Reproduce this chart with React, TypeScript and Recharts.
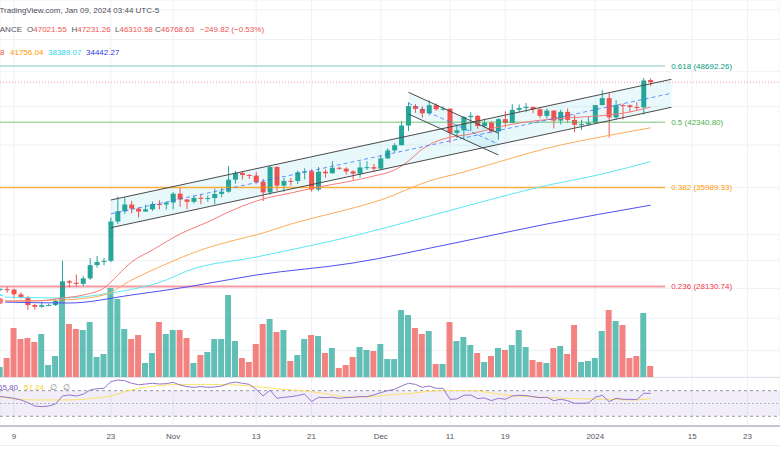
import React from 'react';
import {
  ComposedChart,
  Bar,
  Line,
  Area,
  XAxis,
  YAxis,
  CartesianGrid,
  ReferenceLine,
  ReferenceArea,
  Cell,
} from 'recharts';

// daily candles, Oct 7 2023 (day -2) .. Jan 9 2024 (day 92), day 0 = Oct 9
const FIRST_DAY = -2;
const opens = [
  27930, 27950, 27920, 27590, 27390, 26870, 26750, 26850, 26865, 27150, 28500, 28400, 28320, 28710, 29670, 29910,
  29990, 33070, 33920, 34500, 34150, 33900, 34090, 34540, 34500, 34670, 35440, 34940, 34730, 35080, 35050, 35060,
  35420, 35620, 36700, 37320, 37130, 37070, 36490, 35550, 37880, 36160, 36590, 36580, 37380, 37470, 35810, 37430,
  37290, 37800, 37720, 37460, 37250, 37830, 37860, 37720, 38690, 39470, 39980, 41990, 44080, 43770, 43290, 44170,
  43720, 43790, 41240, 41490, 42870, 43020, 41940, 42280, 41370, 42660, 42260, 43660, 43860, 43990, 43720, 43010,
  43580, 42510, 43440, 42580, 42070, 42140, 42280, 44180, 44950, 42850, 44180, 44160, 43970, 43930, 47021.55,
];
const highs = [
  28000, 28100, 27990, 27740, 27480, 26940, 27090, 26960, 27290, 30000, 28610, 28990, 28890, 30200, 30360, 30200,
  33400, 35200, 35130, 34820, 34250, 34470, 34750, 34860, 34720, 35580, 35980, 34950, 35280, 35380, 35290, 35900,
  35980, 37970, 37530, 37410, 37230, 37410, 36760, 37980, 37930, 36850, 36850, 37540, 37750, 37650, 37870, 37650,
  38430, 37900, 37840, 37590, 38400, 38430, 38170, 38990, 39690, 40190, 42420, 44490, 44300, 44050, 44700, 44370,
  44040, 43850, 42100, 43000, 43420, 43090, 42700, 42430, 42760, 43500, 44280, 44240, 44400, 43990, 43950, 43800,
  43600, 43680, 43800, 43120, 42600, 42900, 44180, 45880, 45500, 44730, 44340, 44230, 44500, 47250, 47231.26,
];
const lows = [
  27860, 27690, 27300, 27300, 26540, 26560, 26690, 26800, 26810, 27110, 28080, 28130, 28170, 28600, 29480, 29660,
  29880, 32880, 33700, 33750, 33400, 33880, 33940, 34080, 34060, 34100, 34300, 34100, 34580, 34530, 34740, 34520,
  35120, 35530, 36330, 36710, 36760, 36340, 34800, 35360, 35700, 35610, 36170, 36300, 36720, 35630, 35660, 36880,
  37250, 37620, 37170, 36700, 36880, 37600, 37500, 37610, 38650, 39280, 39980, 41420, 43330, 42820, 43080, 43580,
  43560, 40220, 40680, 40600, 41420, 41660, 41680, 41250, 40530, 41800, 42230, 43400, 43400, 43300, 42750, 42720,
  41680, 42100, 42300, 41300, 41520, 41960, 42180, 44150, 40750, 42620, 42630, 43400, 43600, 43170, 46310.58,
];
const closes = [
  27950, 27920, 27590, 27390, 26870, 26750, 26860, 26865, 27150, 28500, 28400, 28320, 28710, 29670, 29910, 29990,
  33070, 33920, 34500, 34150, 33900, 34090, 34540, 34500, 34670, 35440, 34940, 34730, 35080, 35050, 35060, 35420,
  35620, 36700, 37320, 37130, 37070, 36490, 35550, 37880, 36160, 36590, 36580, 37380, 37470, 35810, 37430, 37290,
  37800, 37720, 37460, 37250, 37830, 37860, 37720, 38690, 39470, 39980, 41990, 44080, 43770, 43290, 44170, 43720,
  43790, 41240, 41490, 42870, 43020, 41940, 42280, 41370, 42660, 42260, 43660, 43860, 43990, 43720, 43010, 43580,
  42510, 43440, 42580, 42070, 42140, 42280, 44180, 44950, 42850, 44180, 44160, 43970, 43930, 46970, 46768.63,
];
// volume, thousand BTC
const volumes = [
  10, 19, 49, 38, 39, 35, 43, 12, 21, 80, 53, 48, 47, 55, 20, 23, 89, 78, 48, 38, 42, 14, 24, 55, 43, 47, 47, 39,
  14, 22, 25, 38, 38, 82, 36, 19, 15, 33, 53, 58, 45, 47, 16, 22, 38, 42, 41, 24, 29, 9, 12, 20, 30, 27, 26, 33,
  18, 18, 67, 62, 49, 43, 46, 13, 13, 55, 36, 40, 32, 24, 15, 21, 29, 27, 32, 47, 30, 17, 15, 14, 29, 31, 23, 52,
  15, 16, 19, 46, 67, 56, 52, 19, 21, 64, 11,
];
const rsiValues = [
  60.7, 59.7, 58, 55.5, 51.3, 46.1, 45, 46, 49.2, 61.7, 63.3, 61.7, 64.3, 71, 73, 73.7, 84, 86.7, 85.6, 81.5, 79.3,
  80.4, 81.5, 80.4, 81, 83, 78.8, 76.3, 75.2, 76.3, 75.2, 75.7, 77.3, 81.5, 83.5, 81.5, 79.9, 72.1, 61.7, 71, 58.1,
  59.7, 60.7, 62.3, 64.8, 52.9, 59.7, 59.1, 59.7, 58.1, 59.1, 59.7, 60.7, 60.7, 63.3, 66.9, 70, 72.1, 77.3, 81.5,
  79.9, 75.2, 77.3, 73.7, 73.7, 56.5, 57.1, 62.8, 63.3, 57.6, 58.6, 54.4, 58.1, 56.5, 61.7, 62.8, 62.3, 60.7, 59.1,
  59.7, 54.4, 56.5, 54.4, 50.3, 50.3, 50.8, 59.7, 62.8, 52.9, 58.1, 56.5, 56.5, 56, 65.9, 65.8,
];
const rsiMaDays = [-2, 0, 3, 8, 11, 14, 16, 20, 23, 27, 32, 35, 39, 43, 46, 49, 52, 54, 57, 59, 62, 66, 71, 76, 81, 86, 89, 92];
const rsiMaVals = [60.7, 57, 55.5, 55.5, 57.6, 61.7, 68.4, 76.8, 79.4, 79.9, 78.9, 76.3, 72.1, 68.4, 63.3, 59.7, 60.7, 63.3, 65.4, 67.9, 70, 70, 63.3, 59.7, 57.6, 56.5, 55.5, 57.2];

// moving averages read at sample days
const maRedDays = [-2, 3, 7, 10, 13, 14, 15, 17, 20, 24, 28, 32, 36, 40, 44, 48, 52, 55, 57, 59, 62, 66, 70, 74, 78, 82, 86, 89, 92];
const maRedVals = [27137, 27137, 27342, 27545, 28033, 28450, 28950, 29902, 30807, 32060, 33033, 34120, 34980, 35501, 36037, 36485, 37035, 37594, 38441, 39605, 40603, 41111, 41837, 42360, 42679, 42888, 43102, 43428, 43970];
const maOrangeDays = [-2, 7, 13, 17, 22, 27, 32, 36, 40, 45, 49, 53, 60, 65, 70, 75, 79, 84, 92];
const maOrangeVals = [27138, 27205, 27546, 28593, 29754, 30809, 31585, 32140, 32867, 33611, 34202, 34889, 36578, 37406, 38348, 39314, 40004, 40707, 41756];
const maCyanDays = [-2, 7, 14, 22, 25, 35, 49, 59, 67, 76, 85, 92];
const maCyanVals = [27409, 27341, 27683, 28593, 29241, 30277, 31901, 33364, 34630, 36036, 37220, 38389];
const maBlueDays = [-2, 8, 17, 25, 35, 49, 63, 77, 92];
const maBlueVals = [27070, 27003, 27546, 28100, 28951, 29828, 31272, 32867, 34442];

const fibRatios = ['0.618', '0.5', '0.382', '0.236'];
const fibPrices = [48692.26, 42340.8, 35989.33, 28130.74];
const lastPrice = 46768.63;

// drawn channels: [start, end] anchors
const riseDays = [14, 95];
const riseUpper = [34889, 47108];
const riseLower = [32566, 43938];
const riseMid = [33708, 45495];
const fallDays = [57, 70];
const fallUpper = [45609, 41186];
const fallLower = [43212, 39021];
const fallMid = [44394, 40090];

const gridPrices = [24000, 26000, 28000, 30000, 32000, 34000, 36000, 38000, 40000, 42000, 44000, 46000, 48000, 50000, 52000, 54000, 56000];
const tickDays = [0, 14, 23, 35, 43, 53, 63, 71, 84, 98, 106];
const tickLabels = ['9', '23', 'Nov', '13', '21', 'Dec', '11', '19', '2024', '15', '23'];

const GREEN = '#26a69a';
const RED = '#ef5350';
const X_DOMAIN: [number, number] = [-14 / 6.92, 766 / 6.92];
const PRICE_DOMAIN: [number, number] = [22463, 57380];
const PANE_H = 377;

const pick = (days: number[], vals: number[], d: number) => {
  const k = days.indexOf(d);
  return k >= 0 ? vals[k] : null;
};

const rows = opens.map((o, i) => {
  const d = FIRST_DAY + i;
  return {
    d,
    open: o,
    high: highs[i],
    low: lows[i],
    close: closes[i],
    vol: volumes[i],
    up: closes[i] >= o,
    rsi: rsiValues[i],
    rsiMa: pick(rsiMaDays, rsiMaVals, d),
    maRed: pick(maRedDays, maRedVals, d),
    maOrange: pick(maOrangeDays, maOrangeVals, d),
    maCyan: pick(maCyanDays, maCyanVals, d),
    maBlue: pick(maBlueDays, maBlueVals, d),
  };
});

const riseRows = riseDays.map((d, i) => ({ d, band: [riseLower[i], riseUpper[i]] }));
const fallRows = fallDays.map((d, i) => ({ d, band: [fallLower[i], fallUpper[i]] }));

function Candle(props: any) {
  const { x, y, width, height, payload } = props;
  if (!payload) return null;
  const top = Math.min(y, y + height);
  const bot = Math.max(y, y + height);
  const lh = Math.log(payload.high);
  const ll = Math.log(payload.low);
  const toY = (p: number) => (lh === ll ? top : top + ((lh - Math.log(p)) / (lh - ll)) * (bot - top));
  const c = payload.up ? GREEN : RED;
  const cx = x + width / 2;
  const b1 = toY(Math.max(payload.open, payload.close));
  const b2 = toY(Math.min(payload.open, payload.close));
  return (
    <g>
      <line x1={cx} x2={cx} y1={top} y2={bot} stroke={c} strokeWidth={1} />
      <rect x={x} y={b1} width={width} height={Math.max(1, b2 - b1)} fill={c} />
    </g>
  );
}

const noMargin = { top: 0, right: 0, bottom: 0, left: 0 };

const xHidden = (
  <XAxis type="number" dataKey="d" domain={X_DOMAIN} allowDataOverflow ticks={tickDays} hide />
);
const yPrice = (
  <YAxis type="number" scale="log" domain={PRICE_DOMAIN} allowDataOverflow ticks={gridPrices} hide />
);

function ChannelFill({ data }: { data: any[] }) {
  return (
    <div style={{ position: 'absolute', left: 0, top: 0 }}>
      <ComposedChart width={780} height={PANE_H} data={data} margin={noMargin}>
        {xHidden}
        {yPrice}
        <Area
          dataKey="band"
          type="linear"
          stroke="none"
          fill="#4dd0e1"
          fillOpacity={0.12}
          isAnimationActive={false}
        />
      </ComposedChart>
    </div>
  );
}

const seg = (days: number[], vals: number[]) => [
  { x: days[0], y: vals[0] },
  { x: days[1], y: vals[1] },
];

const fibColors = ['#089981', '#4caf50', '#ff9800', '#f23645'];
const fibLineOpacity = [0.5, 0.5, 0.75, 0.5];
const fibLineWidth = [1, 1.5, 1.3, 2];

const txt = (color: string): React.CSSProperties => ({ color, whiteSpace: 'nowrap' });

export default function App() {
  return (
    <div
      style={{
        position: 'relative',
        width: 780,
        height: 470,
        overflow: 'hidden',
        background: '#ffffff',
        fontFamily: '"Liberation Sans", Arial, sans-serif',
        fontSize: 8,
      }}
    >
      <style>{'body{margin:0}'}</style>

      {/* grid + volume */}
      <div style={{ position: 'absolute', left: 0, top: 0 }}>
        <ComposedChart width={780} height={PANE_H} data={rows} margin={noMargin}>
          {xHidden}
          {yPrice}
          <YAxis yAxisId="v" type="number" domain={[0, PANE_H]} allowDataOverflow hide />
          <CartesianGrid stroke="#eef1f6" />
          <Bar dataKey="vol" yAxisId="v" barSize={6} isAnimationActive={false}>
            {rows.map((r, i) => (
              <Cell key={`v-${i}`} fill={r.up ? 'rgba(38,166,154,0.72)' : 'rgba(239,83,80,0.72)'} />
            ))}
          </Bar>
        </ComposedChart>
      </div>

      <ChannelFill data={riseRows} />
      <ChannelFill data={fallRows} />

      {/* price pane */}
      <div style={{ position: 'absolute', left: 0, top: 0 }}>
        <ComposedChart width={780} height={PANE_H} data={rows} margin={noMargin}>
          {xHidden}
          {yPrice}
          {fibPrices.map((p, i) => (
            <ReferenceLine
              key={`fib-${i}`}
              segment={[
                { x: -2.02, y: p },
                { x: 94.1, y: p },
              ]}
              stroke={fibColors[i]}
              strokeOpacity={fibLineOpacity[i]}
              strokeWidth={fibLineWidth[i]}
              ifOverflow="visible"
              label={{
                value: `${fibRatios[i]} (${p.toFixed(2)})`,
                position: 'right',
                offset: 6,
                fill: fibColors[i],
                fontSize: 8,
              }}
            />
          ))}
          <ReferenceLine y={lastPrice} stroke="#f23645" strokeOpacity={0.55} strokeDasharray="1 2" />
          <Line dataKey="maBlue" type="monotone" stroke="#5050f0" strokeWidth={1} dot={false} connectNulls isAnimationActive={false} />
          <Line dataKey="maCyan" type="monotone" stroke="#5de8f2" strokeWidth={1} dot={false} connectNulls isAnimationActive={false} />
          <Line dataKey="maOrange" type="monotone" stroke="#ffac5c" strokeWidth={1} dot={false} connectNulls isAnimationActive={false} />
          <Line dataKey="maRed" type="monotone" stroke="#f77a7a" strokeWidth={1} dot={false} connectNulls isAnimationActive={false} />
          <Bar dataKey={(r: any) => [r.low, r.high]} barSize={5} shape={<Candle />} isAnimationActive={false} />
          <ReferenceLine segment={seg(riseDays, riseUpper)} stroke="#4a4a4a" ifOverflow="visible" />
          <ReferenceLine segment={seg(riseDays, riseLower)} stroke="#4a4a4a" ifOverflow="visible" />
          <ReferenceLine segment={seg(riseDays, riseMid)} stroke="#2962ff" strokeOpacity={0.7} strokeDasharray="4 3" ifOverflow="visible" />
          <ReferenceLine segment={seg(fallDays, fallUpper)} stroke="#4a4a4a" ifOverflow="visible" />
          <ReferenceLine segment={seg(fallDays, fallLower)} stroke="#4a4a4a" ifOverflow="visible" />
          <ReferenceLine segment={seg(fallDays, fallMid)} stroke="#2962ff" strokeOpacity={0.7} strokeDasharray="4 3" ifOverflow="visible" />
        </ComposedChart>
      </div>

      {/* pane separator */}
      <div style={{ position: 'absolute', left: 0, top: 377, width: 780, height: 1, background: '#e0e3eb' }} />

      {/* RSI pane + time axis */}
      <div style={{ position: 'absolute', left: 0, top: 377 }}>
        <ComposedChart width={780} height={68} data={rows} margin={{ top: 1, right: 0, bottom: 0, left: 0 }}>
          <XAxis
            type="number"
            dataKey="d"
            domain={X_DOMAIN}
            allowDataOverflow
            ticks={tickDays}
            interval={0}
            height={19}
            tickLine={false}
            tickMargin={1}
            axisLine={{ stroke: '#c3c6ce', strokeWidth: 2 }}
            tick={{ fontSize: 8, fill: '#50535e' }}
            tickFormatter={(v: number) => tickLabels[tickDays.indexOf(v)] ?? ''}
          />
          <YAxis type="number" domain={[14.8, 89.8]} allowDataOverflow hide />
          <CartesianGrid stroke="#eef1f6" horizontal={false} />
          <ReferenceArea y1={30} y2={70} fill="#7e57c2" fillOpacity={0.1} stroke="none" />
          <ReferenceLine y={70} stroke="#9598a1" strokeDasharray="3 3" />
          <ReferenceLine y={50} stroke="#b2b5be" strokeDasharray="2 2" />
          <ReferenceLine y={30} stroke="#9598a1" strokeDasharray="3 3" />
          <Line dataKey="rsiMa" type="monotone" stroke="#fbe36a" strokeWidth={1} dot={false} connectNulls isAnimationActive={false} />
          <Line dataKey="rsi" type="linear" stroke="#9575cd" strokeWidth={1} dot={false} isAnimationActive={false} />
        </ComposedChart>
      </div>
      <div style={{ position: 'absolute', left: 0, top: 445, width: 780, height: 1, background: '#eef0f4' }} />

      {/* headers */}
      <div style={{ position: 'absolute', left: -0.5, top: 5.5, lineHeight: '10px', ...txt('#4a4d57') }}>
        TradingView.com, Jan 09, 2024 03:44 UTC-5
      </div>
      <div style={{ position: 'absolute', right: 758, top: 24.5, lineHeight: '10px', ...txt('#50535e') }}>
        Bitcoin / TetherUS · 1D · BINANCE
      </div>
      <div style={{ position: 'absolute', left: 27, top: 24.5, lineHeight: '10px', ...txt('#50535e') }}>
        O<span style={{ color: RED }}>47021.55</span>
      </div>
      <div style={{ position: 'absolute', left: 71.5, top: 24.5, lineHeight: '10px', ...txt('#50535e') }}>
        H<span style={{ color: RED }}>47231.26</span>
      </div>
      <div style={{ position: 'absolute', left: 115, top: 24.5, lineHeight: '10px', ...txt('#50535e') }}>
        L<span style={{ color: RED }}>46310.58</span>
      </div>
      <div style={{ position: 'absolute', left: 155, top: 24.5, lineHeight: '10px', ...txt('#50535e') }}>
        C<span style={{ color: RED }}>46768.63</span>
      </div>
      <div style={{ position: 'absolute', left: 200, top: 24.5, lineHeight: '10px', ...txt(RED) }}>
        −249.82 (−0.53%)
      </div>
      <div style={{ position: 'absolute', right: 775.5, top: 47.7, lineHeight: '10px', ...txt(RED) }}>
        43968.58
      </div>
      <div style={{ position: 'absolute', left: 10, top: 47.7, lineHeight: '10px', ...txt('#ff9800') }}>41756.04</div>
      <div style={{ position: 'absolute', left: 48, top: 47.7, lineHeight: '10px', ...txt('#1fd3ea') }}>38389.07</div>
      <div style={{ position: 'absolute', left: 86, top: 47.7, lineHeight: '10px', ...txt('#3333e6') }}>34442.27</div>

      <div style={{ position: 'absolute', left: -2, top: 383.3, lineHeight: '10px', ...txt('#7e57c2') }}>65.80</div>
      <div style={{ position: 'absolute', left: 24, top: 383.3, lineHeight: '10px', ...txt('#f2cf2a') }}>57.24</div>
      <div style={{ position: 'absolute', left: 50, top: 383.3, lineHeight: '10px', ...txt('#787b86') }}>∅</div>
      <div style={{ position: 'absolute', left: 63, top: 383.3, lineHeight: '10px', ...txt('#787b86') }}>∅</div>
    </div>
  );
}
